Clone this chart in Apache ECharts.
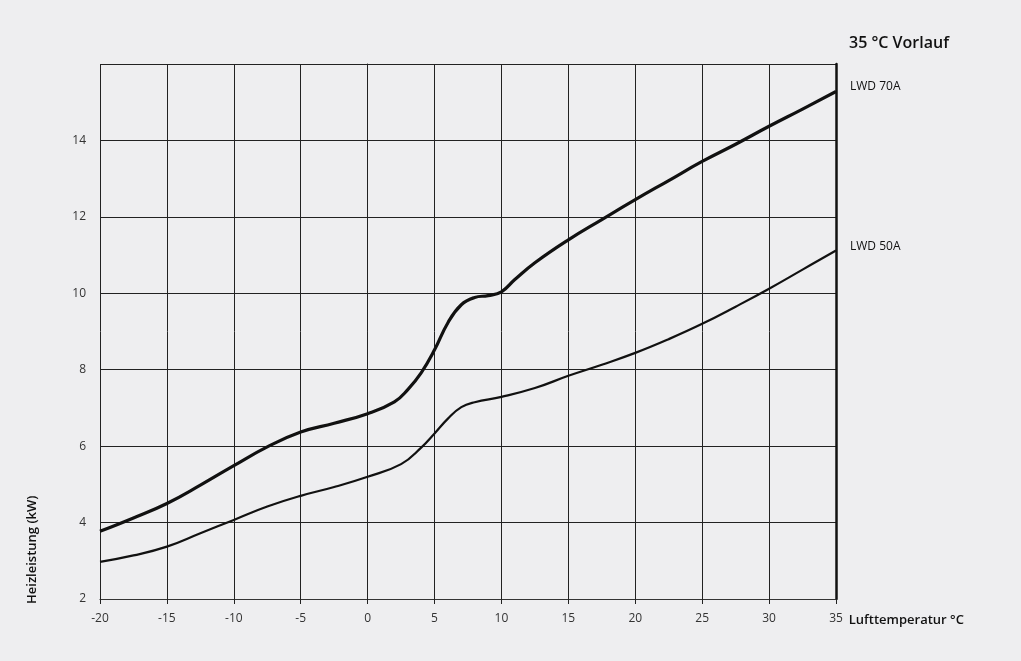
<!DOCTYPE html>
<html><head><meta charset="utf-8">
<script src="https://cdn.jsdelivr.net/npm/echarts@6/dist/echarts.min.js"></script>
<style>html,body{margin:0;padding:0;background:#eeeef0}#c{width:1021px;height:661px}</style>
</head><body><div id="c"></div>
<script>
const xTicks = [-20,-15,-10,-5,0,5,10,15,20,25,30,35];
const yTicks = [2,4,6,8,10,12,14];
const lwd70X = [-20,-17.5,-15,-12.5,-10,-7.5,-5,-2.5,0,2,3,4,5,6,7,8,9,10,11,12.5,15,17.5,20,22.5,25,27.5,30,32.5,35];
const lwd70Y = [3.77,4.12,4.5,4.98,5.49,5.98,6.37,6.6,6.85,7.16,7.48,7.92,8.52,9.23,9.7,9.89,9.94,10.04,10.36,10.8,11.4,11.93,12.45,12.95,13.45,13.9,14.37,14.82,15.28];
const lwd50X = [-20,-17.5,-15,-12.5,-10,-7.5,-5,-2.5,0,2.5,4,5,6,7,8,10,12.5,15,17.5,20,22.5,25,27.5,30,32.5,35];
const lwd50Y = [2.97,3.14,3.37,3.72,4.07,4.42,4.7,4.93,5.2,5.53,5.96,6.33,6.72,7.02,7.15,7.29,7.52,7.84,8.13,8.44,8.8,9.2,9.65,10.12,10.62,11.12];
const title = '35 °C Vorlauf';
const xName = 'Lufttemperatur °C';
const yName = 'Heizleistung (kW)';

const font = "'Open Sans', 'Noto Sans', sans-serif";
const chart = echarts.init(document.getElementById('c'));
chart.setOption({
  backgroundColor: '#eeeef0',
  animation: false,
  title: { text: title, left: 844, top: 30, textStyle: { fontFamily: font, fontSize: 16, fontWeight: 600, color: '#111' } },
  grid: { left: 100, right: 185, top: 64, bottom: 62 },
  graphic: [{ type: 'text', x: 32, y: 604, rotation: Math.PI / 2,
    style: { text: yName, fontFamily: font, fontSize: 13, fontWeight: 600, fill: '#111', align: 'left', verticalAlign: 'middle' } }],
  xAxis: {
    type: 'value', min: -20, max: 35, interval: 5,
    name: xName, nameLocation: 'end', nameGap: 10,
    nameTextStyle: { fontFamily: font, fontSize: 13, fontWeight: 600, color: '#111', verticalAlign: 'top', padding: [15, 0, 0, 0] },
    axisLine: { lineStyle: { color: '#333', width: 1.2 } },
    axisTick: { show: true, length: 5, lineStyle: { color: '#222' } },
    axisLabel: { fontFamily: font, fontSize: 12, color: '#333', margin: 14 },
    splitLine: { show: true, lineStyle: { color: '#222', width: 1 } }
  },
  yAxis: [{
    type: 'value', min: 2, max: 16, interval: 2,
    axisLine: { show: true, lineStyle: { color: '#222', width: 1 } },
    axisTick: { show: false },
    axisLabel: { fontFamily: font, fontSize: 12, color: '#333', margin: 14, formatter: v => v === 16 ? '' : v },
    splitLine: { show: true, lineStyle: { color: '#222', width: 1 } }
  }, {
    type: 'value', min: 2, max: 16, interval: 2, position: 'right',
    axisLine: { show: true, lineStyle: { color: '#111', width: 2.5 } },
    axisTick: { show: false }, axisLabel: { show: false }, splitLine: { show: false }
  }],
  series: [{
    name: 'LWD 70A', type: 'line', smooth: 0.45, symbol: 'none',
    data: lwd70X.map((x, i) => [x, lwd70Y[i]]),
    lineStyle: { color: '#111', width: 3.2 },
    endLabel: { show: true, formatter: 'LWD 70A', fontFamily: font, fontSize: 12, color: '#111', offset: [6, -5] }
  }, {
    name: 'LWD 50A', type: 'line', smooth: 0.45, symbol: 'none',
    data: lwd50X.map((x, i) => [x, lwd50Y[i]]),
    lineStyle: { color: '#111', width: 2.2 },
    endLabel: { show: true, formatter: 'LWD 50A', fontFamily: font, fontSize: 12, color: '#111', offset: [6, -4] }
  }]
});
</script></body></html>
